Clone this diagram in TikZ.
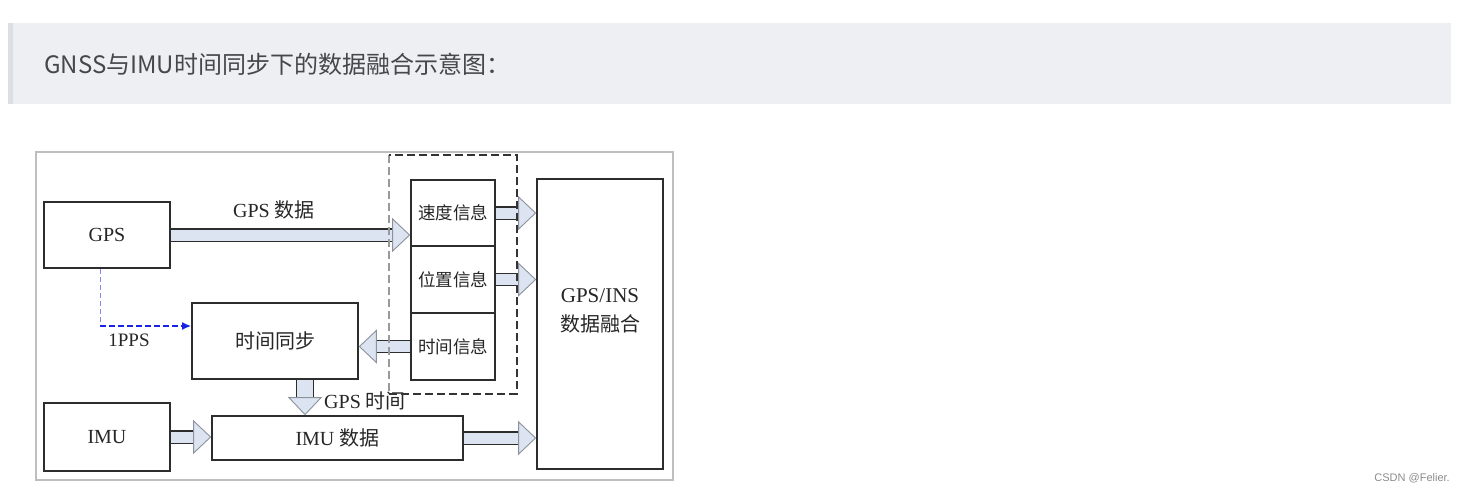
\documentclass[tikz,border=0pt]{standalone}
\usepackage{fontspec}
\setmainfont{Liberation Serif}
\newfontfamily\cjk{Noto Sans CJK SC}
\newfontfamily\websans{Liberation Sans}
\usepackage{tikz}
\usetikzlibrary{arrows.meta,positioning,calc}
\definecolor{bannerGray}{RGB}{238,239,243}
\definecolor{bannerBar}{RGB}{220,222,227}
\definecolor{titleText}{RGB}{70,70,75}
\definecolor{frameGray}{RGB}{190,190,190}
\definecolor{boxLine}{RGB}{45,45,45}
\definecolor{arrowFill}{RGB}{220,228,242}
\definecolor{headLine}{RGB}{140,145,155}
\definecolor{ppsBlue}{RGB}{25,35,230}
\definecolor{ppsLight}{RGB}{125,135,240}

\tikzset{
  blockbox/.style={draw=boxLine, line width=1.6pt, fill=white, inner sep=0pt,
    font=\fontsize{20}{24}\selectfont, text=black!85},
  fatarrow/.style={draw=boxLine, line width=1.3pt, double=arrowFill, double distance=11pt,
    -{Triangle[open, length=18pt, width=34pt, fill=arrowFill, color=headLine, line width=0.9pt]}},
  fatdown/.style={fatarrow, double distance=16pt},
  dashbox/.style={draw=black!80, line width=2pt, dash pattern=on 8pt off 4pt},
  ppsthin/.style={draw=ppsLight, line width=1pt, dash pattern=on 5pt off 3pt},
  ppsthick/.style={draw=ppsBlue, line width=1.8pt, dash pattern=on 6pt off 3pt},
  tag/.style={inner sep=0pt, font=\fontsize{20}{24}\selectfont, text=black!85}
}

\begin{document}
\begin{tikzpicture}[x=1pt, y=-1pt]
  \useasboundingbox (0,0) rectangle (1465,493);

  % page banner
  \fill[bannerGray] (8,23) rectangle (1451,104);
  \fill[bannerBar] (8,23) rectangle (13,104);
  \node[anchor=west, inner sep=0pt, text=titleText, font=\cjk\fontsize{24}{28}\selectfont]
    (title) at (44,64) {GNSS与IMU时间同步下的数据融合示意图：};

  % figure frame
  \draw[frameGray, line width=1.2pt] (36,152) rectangle (673,480);

  % blocks
  \node[blockbox, minimum width=126pt, minimum height=66pt] (gps) at (107,235) {GPS};
  \node[blockbox, minimum width=126pt, minimum height=68pt] (imu) at (107,437) {IMU};
  \node[blockbox, minimum width=166pt, minimum height=76pt] (sync) at (275,341)
    {\cjk\fontsize{20}{24}\selectfont 时间同步};
  \node[blockbox, minimum width=251pt, minimum height=44pt] (imudata) at (337.5,438)
    {IMU {\cjk\fontsize{20}{24}\selectfont 数据}};

  \node[blockbox, minimum width=84pt, minimum height=66pt] (speed) at (453,213)
    {\cjk\fontsize{17.5}{21}\selectfont 速度信息};
  \node[blockbox, minimum width=84pt, minimum height=67pt] (posinfo) at (453,279.5)
    {\cjk\fontsize{17.5}{21}\selectfont 位置信息};
  \node[blockbox, minimum width=84pt, minimum height=67pt] (timeinfo) at (453,346.5)
    {\cjk\fontsize{17.5}{21}\selectfont 时间信息};

  \node[blockbox, minimum width=126pt, minimum height=290pt] (fusion) at (600,324) {};
  \node[tag, align=center, font=\fontsize{21}{29}\selectfont] (fusiontxt) at (600,311)
    {GPS/INS\\{\cjk\fontsize{20}{24}\selectfont 数据融合}};

  % data flow
  \draw[fatarrow] (gps.east) -- (gps.east -| speed.west);
  \node[tag] (gpsdata) at (274,210) {GPS {\cjk\fontsize{20}{24}\selectfont 数据}};

  \draw[fatarrow] (speed.east) -- (speed.east -| fusion.west);
  \draw[fatarrow] (posinfo.east) -- (posinfo.east -| fusion.west);
  \draw[fatarrow] (timeinfo.west) -- (timeinfo.west -| sync.east);

  \coordinate (syncdrop) at ($(sync.south)+(30,0)$);
  \draw[fatdown] (syncdrop) -- (syncdrop |- imudata.north);
  \node[tag, anchor=west] (gpstime) at (324,401) {GPS {\cjk\fontsize{20}{24}\selectfont 时间}};

  \draw[fatarrow] (imu.east) -- (imu.east -| imudata.west);
  \draw[fatarrow] (imudata.east) -- (imudata.east -| fusion.west);

  % 1PPS pulse
  \coordinate (ppstop) at ($(gps.south)+(-7,0)$);
  \coordinate (ppsin) at ($(sync.west)+(0,-15)$);
  \draw[ppsthin] (ppstop) -- (ppstop |- ppsin);
  \draw[ppsthick, -{Latex[length=9pt, width=8pt]}] (ppstop |- ppsin) -- (ppsin);
  \node[tag, font=\fontsize{19}{23}\selectfont] (pps) at (129,340) {1PPS};

  % group of GPS messages
  \coordinate (grpnw) at ($(speed.north west)+(-21,-24)$);
  \coordinate (grpse) at ($(timeinfo.south east)+(21,13)$);
  \draw[dashbox, draw=black!40, line width=1.5pt] (grpnw) -- (grpnw |- grpse);
  \draw[dashbox] (grpnw |- grpse) -| (grpse |- grpnw) -- (grpnw);

  \node[anchor=east, inner sep=0pt, text=black!45, font=\websans\fontsize{11}{13}\selectfont]
    (mark) at (1450,478) {CSDN @Felier.};
\end{tikzpicture}
\end{document}
